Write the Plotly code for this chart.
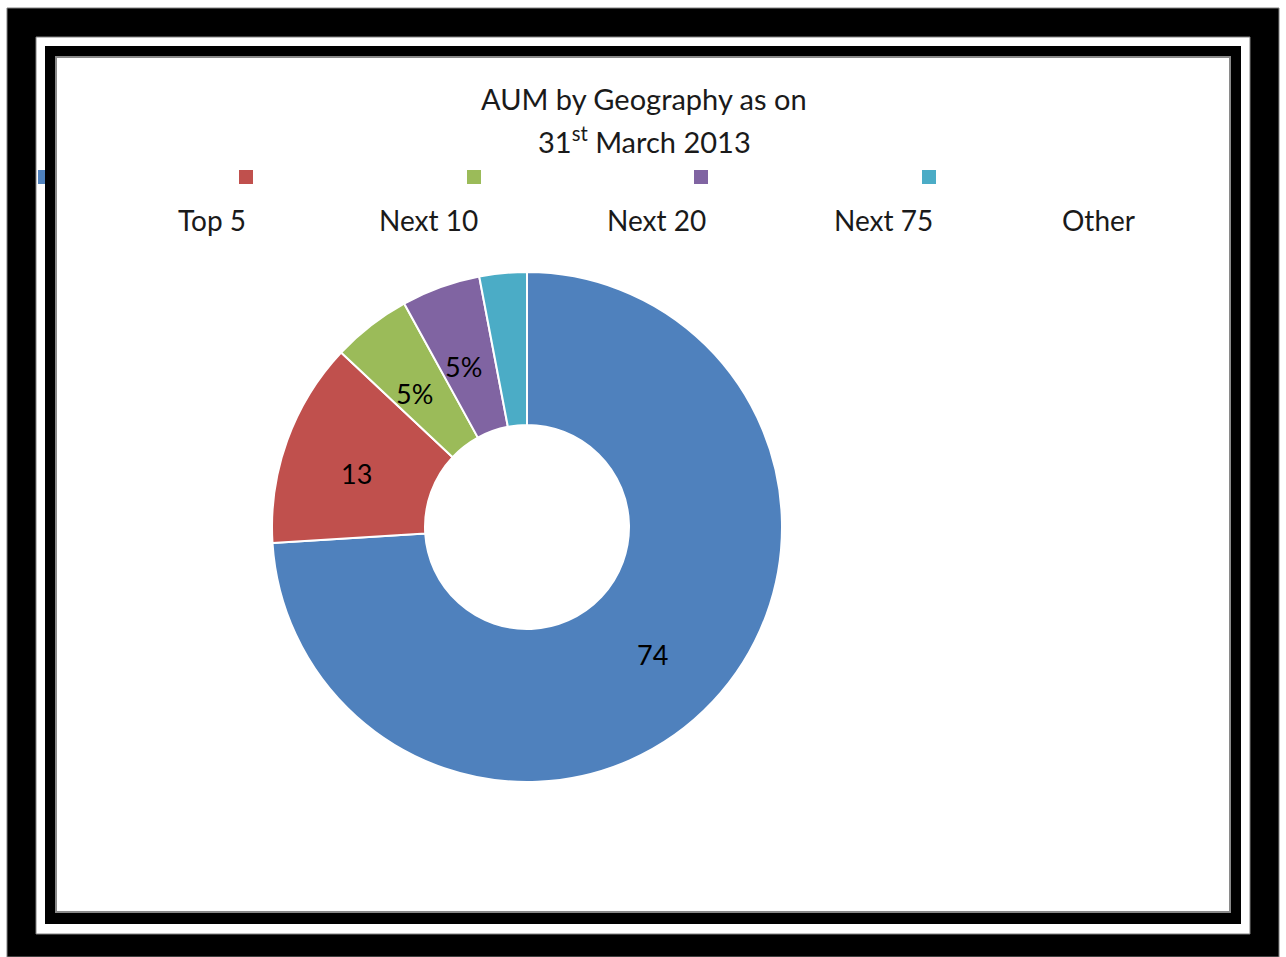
import math
import plotly.graph_objects as go

# AUM split by geography (per cent)
categories = ["Top 5", "Next 10", "Next 20", "Next 75", "Other"]
values = [74, 13, 5, 5, 3]
slice_text = ["74", "13", "5%", "5%", ""]
colors = ["#4F81BD", "#C0504D", "#9BBB59", "#8064A2", "#4BACC6"]

W, H = 1286, 957
FONT = "Lato, 'Open Sans', sans-serif"
INK = "#1a1a1a"

# donut geometry in pixels
CX, CY, R_OUT, HOLE = 527, 527, 255, 0.4
R_TEXT = 177
TEXT_DROP = 6


def px(x):
    return x / W


def py(y):
    return 1 - y / H


fig = go.Figure()

fig.add_trace(go.Pie(
    labels=categories,
    values=values,
    textinfo="none",
    hole=HOLE,
    sort=False,
    direction="clockwise",
    rotation=0,
    marker=dict(colors=colors, line=dict(color="#ffffff", width=2)),
    domain=dict(x=[px(CX - R_OUT), px(CX + R_OUT)],
                y=[py(CY + R_OUT), py(CY - R_OUT)]),
    showlegend=False,
    hoverinfo="label+value",
))

shapes = []
# layered picture frame: black / white / black / white panel with grey edge
frame = [
    ((7, 8, 1279, 957), "#000000", "#808080", 1),
    ((36, 37, 1250, 934), "#ffffff", "#808080", 1),
    ((45, 46, 1241, 924), "#000000", "#000000", 0),
    ((56, 57, 1230, 912), "#ffffff", "#8a8a8a", 2),
]
for (x0, y0, x1, y1), fill, line_col, lw in frame:
    shapes.append(dict(
        type="rect", xref="paper", yref="paper", layer="below",
        x0=px(x0), x1=px(x1), y0=py(y1), y1=py(y0),
        fillcolor=fill, line=dict(color=line_col, width=lw),
    ))

# legend swatches sit one row above their names
swatch_x = [(38, 45), (239, 253), (467, 481), (694, 708), (922, 936)]
for (x0, x1), c in zip(swatch_x, colors):
    shapes.append(dict(
        type="rect", xref="paper", yref="paper", layer="above",
        x0=px(x0), x1=px(x1), y0=py(184), y1=py(170),
        fillcolor=c, line=dict(width=0),
    ))


def note(text, x, y, size, color=INK):
    return dict(text=text, x=px(x), y=py(y), xref="paper", yref="paper",
                xanchor="center", yanchor="middle", showarrow=False,
                font=dict(family=FONT, size=size, color=color))


annotations = [
    note("AUM by Geography as on", 644, 99, 29),
    note("31<sup>st</sup> March 2013", 644, 140, 29),
]

label_x = [212, 428, 656, 883, 1098]
for name, lx in zip(categories, label_x):
    annotations.append(note(name, lx, 220, 28))

# slice value labels at the middle of each wedge (clockwise from 12 o'clock)
total = sum(values)
start = 0.0
for v, t in zip(values, slice_text):
    mid = (start + v / 2) / total * 2 * math.pi
    start += v
    if not t:
        continue
    lx = CX + R_TEXT * math.sin(mid) - 4
    ly = CY - R_TEXT * math.cos(mid) + TEXT_DROP
    annotations.append(note(t, lx, ly, 27, "#000000"))

fig.update_layout(
    width=W, height=H,
    margin=dict(l=0, r=0, t=0, b=0),
    paper_bgcolor="#ffffff",
    plot_bgcolor="#ffffff",
    shapes=shapes,
    annotations=annotations,
)

fig.write_html("out.html")
